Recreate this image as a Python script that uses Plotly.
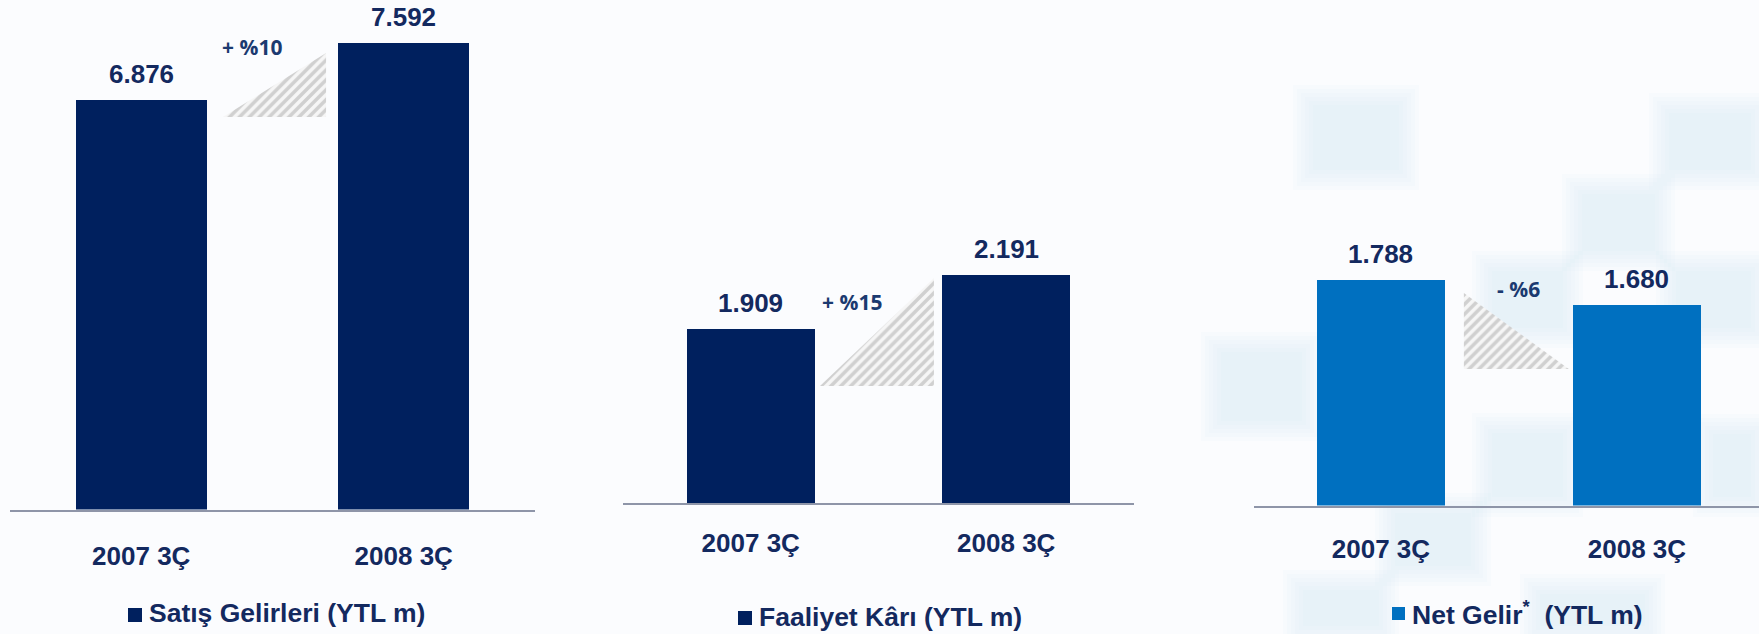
import plotly.graph_objects as go

W, H = 1759, 634

# ---------------- data ----------------
categories = ["2007 3Ç", "2008 3Ç"]
satis_gelirleri = [6876, 7592]      # Satış Gelirleri (YTL m)
faaliyet_kari = [1909, 2191]        # Faaliyet Kârı (YTL m)
net_gelir = [1788, 1680]            # Net Gelir* (YTL m)

legend_names = ["Satış Gelirleri (YTL m)", "Faaliyet Kârı (YTL m)",
                "Net Gelir<sup>*</sup>\u00a0\u00a0(YTL m)"]

# ---------------- styling ----------------
NAVY = "#00205e"
BLUE = "#0070c0"
TXT = "#13295f"
PCT_TXT = "#1b3a70"
AXIS = "#8e95a8"
BG = "#fbfcfe"
FONT = "Liberation Sans, Arial, sans-serif"


def px_x(p):
    return p / W


def px_y(p):
    return 1 - p / H


panels = [
    dict(vals=satis_gelirleri, color=NAVY, name=legend_names[0],
         xdom=(10, 535), base=509.5, yrange=(1705, 8139), xrange=(-0.5, 1.5),
         standoff=22, sq=(128, 608, 142, 622), cap_xy=(147, 613),
         tri=dict(x0=0.311, x1=0.704, ylo=6662, yhi=7470, up=True),
         pct_xy=(0.422, 7545)),
    dict(vals=faaliyet_kari, color=NAVY, name=legend_names[1],
         xdom=(623, 1134), base=503, yrange=(1000, 3627), xrange=(-0.5, 1.5),
         standoff=16, sq=(738, 611, 752, 625), cap_xy=(757, 617),
         tri=dict(x0=0.271, x1=0.717, ylo=1611, yhi=2175, up=True),
         pct_xy=(0.396, 2050)),
    dict(vals=net_gelir, color=BLUE, name=legend_names[2],
         xdom=(1254, 1759), base=505.5, yrange=(814, 2997.5), xrange=(-0.496, 1.477),
         standoff=19, sq=(1392, 607, 1405, 620), cap_xy=(1410, 613),
         tri=dict(x0=0.324, x1=0.734, ylo=1403.5, yhi=1732, up=False),
         pct_xy=(0.539, 1749)),
]

fig = go.Figure()
annotations = []
shapes = []
layout_axes = {}

# faint blurred light-blue background tiles (decoration), pixel boxes
bg_tiles = [
    (1305, 97, 1407, 178), (1661, 105, 1759, 178), (1574, 186, 1663, 259),
    (1484, 263, 1571, 336), (1668, 263, 1759, 336), (1213, 344, 1310, 429),
    (1484, 425, 1571, 505), (1387, 505, 1479, 574), (1295, 582, 1387, 634),
    (1532, 586, 1653, 634), (1705, 426, 1759, 505),
]
for (x0, y0, x1, y1) in bg_tiles:
    for grow in (12, 8, 4, 0, -4, -8):
        shapes.append(dict(
            type="rect", xref="paper", yref="paper", layer="below",
            x0=px_x(x0 - grow), x1=px_x(x1 + grow),
            y0=px_y(y1 + grow), y1=px_y(y0 - grow),
            line=dict(width=0), fillcolor="rgba(214,232,247,0.09)"))

for i, p in enumerate(panels):
    sfx = "" if i == 0 else str(i + 1)
    xa, ya = "x" + sfx, "y" + sfx

    # hatched "trend" triangle (decoration)
    t = p["tri"]
    if t["up"]:
        tx = [t["x0"], t["x1"], t["x1"], t["x0"]]
        ty = [t["ylo"], t["ylo"], t["yhi"], t["ylo"]]
    else:
        tx = [t["x0"], t["x0"], t["x1"], t["x0"]]
        ty = [t["yhi"], t["ylo"], t["ylo"], t["yhi"]]
    fig.add_trace(go.Scatter(
        x=tx, y=ty, xaxis=xa, yaxis=ya, mode="lines", fill="toself",
        line=dict(width=0, color="rgba(0,0,0,0)"),
        fillcolor="#f2f2f2",
        fillpattern=dict(shape="/", fgcolor="#a9a9a9", bgcolor="#f6f6f6",
                         size=7, solidity=0.5),
        hoverinfo="skip", showlegend=False))

    # bars
    fig.add_trace(go.Bar(
        x=[0, 1], y=p["vals"], xaxis=xa, yaxis=ya, width=0.5,
        marker=dict(color=p["color"], line=dict(width=0)),
        name=p["name"], showlegend=False))

    # value labels
    for j, v in enumerate(p["vals"]):
        annotations.append(dict(
            x=j, y=v, xref=xa, yref=ya, yanchor="middle", yshift=26,
            text=f"{v:,}".replace(",", "."), showarrow=False,
            font=dict(family=FONT, size=26, color=TXT, weight="bold")))

    # percentage change label
    chg = round((p["vals"][1] / p["vals"][0] - 1) * 100)
    sign = "+" if chg >= 0 else "-"
    annotations.append(dict(
        x=p["pct_xy"][0], y=p["pct_xy"][1], xref=xa, yref=ya,
        text=f"{sign} %{abs(chg)}", showarrow=False,
        xanchor="center", yanchor="middle",
        font=dict(family="Open Sans, Lato, sans-serif", size=21,
                  color=PCT_TXT, weight="bold")))

    # legend-style caption: square marker + text
    sx0, sy0, sx1, sy1 = p["sq"]
    shapes.append(dict(
        type="rect", xref="paper", yref="paper",
        x0=px_x(sx0), x1=px_x(sx1), y0=px_y(sy1), y1=px_y(sy0),
        line=dict(width=0), fillcolor=p["color"]))
    annotations.append(dict(
        x=px_x(p["cap_xy"][0]), y=px_y(p["cap_xy"][1]),
        xref="paper", yref="paper", xanchor="left", yanchor="middle",
        text=p["name"], showarrow=False,
        font=dict(family=FONT, size=26.5, color=TXT, weight="bold")))

    layout_axes["xaxis" + sfx] = dict(
        domain=[px_x(p["xdom"][0]), px_x(p["xdom"][1])],
        range=list(p["xrange"]), anchor=ya,
        tickmode="array", tickvals=[0, 1], ticktext=categories,
        showline=True, linecolor=AXIS, linewidth=2,
        showgrid=False, zeroline=False, ticks="",
        ticklabelstandoff=p["standoff"],
        tickfont=dict(family=FONT, size=26, color=TXT, weight="bold"),
        fixedrange=True)
    layout_axes["yaxis" + sfx] = dict(
        domain=[px_y(p["base"]), 1], range=list(p["yrange"]), anchor=xa,
        showgrid=False, zeroline=False, showticklabels=False,
        showline=False, ticks="", fixedrange=True)

fig.update_layout(
    width=W, height=H,
    margin=dict(l=0, r=0, t=0, b=0),
    paper_bgcolor=BG, plot_bgcolor="rgba(0,0,0,0)",
    showlegend=False, bargap=0,
    annotations=annotations, shapes=shapes,
    **layout_axes)

fig.write_html(
    "out.html",
    config={"displayModeBar": False},
    post_script="document.body.style.margin='0px';"
                "document.body.style.overflow='hidden';")
